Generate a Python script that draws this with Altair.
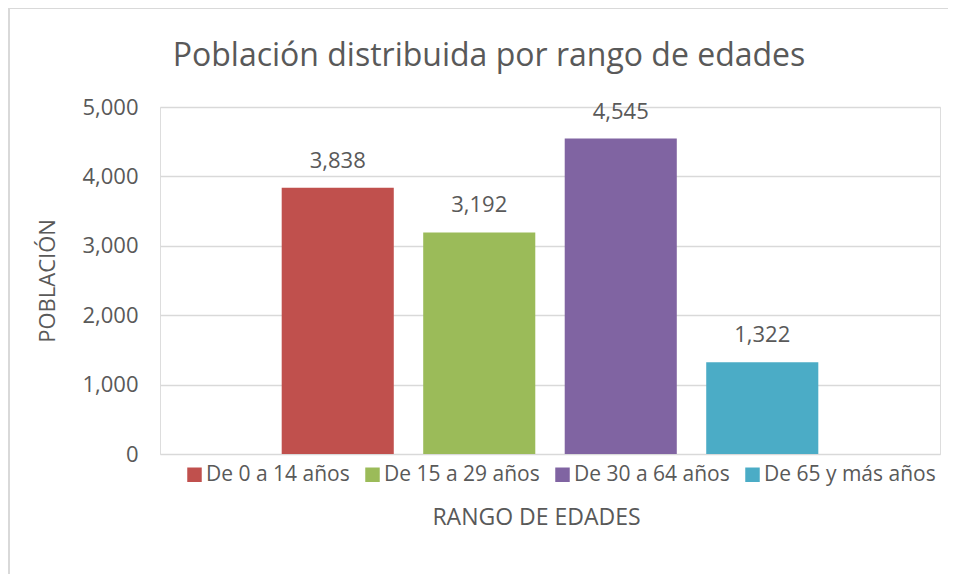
import altair as alt
import pandas as pd

categories = ["De 0 a 14 años", "De 15 a 29 años", "De 30 a 64 años", "De 65 y más años"]
values = [3838, 3192, 4545, 1322]
colors = ["#C0504D", "#9BBB59", "#8064A2", "#4BACC6"]
y_ticks = [0, 1000, 2000, 3000, 4000, 5000]

df = pd.DataFrame({"rango": categories, "poblacion": values})

FONT = "Open Sans"
TXT = "#595959"
W, H = 780, 347

x_enc = alt.X(
    "rango:N",
    sort=categories,
    scale=alt.Scale(paddingInner=0.208, paddingOuter=0.86),
    axis=alt.Axis(
        labels=False, ticks=False, domain=False, title="RANGO DE EDADES",
        titleFontSize=23, titleFontWeight="normal", titleColor=TXT, titleFont=FONT,
        titleX=376, titleY=63, titleBaseline="middle", titleAnchor="middle",
    ),
)
y_enc = alt.Y(
    "poblacion:Q",
    scale=alt.Scale(domain=[0, 5000]),
    axis=alt.Axis(
        values=y_ticks, format=",d", ticks=False, domain=False,
        grid=True, gridColor="#D9D9D9", gridWidth=1.5,
        labelFontSize=22, labelColor=TXT, labelFont=FONT, labelPadding=22,
        title="POBLACIÓN", titleFontSize=22, titleFontWeight="normal",
        titleColor=TXT, titleFont=FONT, titlePadding=22,
    ),
)

bars = alt.Chart(df).mark_bar().encode(
    x=x_enc,
    y=y_enc,
    color=alt.Color(
        "rango:N",
        sort=categories,
        scale=alt.Scale(domain=categories, range=colors),
        legend=alt.Legend(
            title=None, orient="none", direction="horizontal", columns=4,
            legendX=24, legendY=357,
            symbolType="square", symbolSize=210, symbolStrokeWidth=0,
            labelFontSize=21, labelColor=TXT, labelFont=FONT, labelLimit=400,
            columnPadding=12, labelOffset=1,
        ),
    ),
)

labels = alt.Chart(df).mark_text(
    baseline="alphabetic", dy=-20, fontSize=22, font=FONT, color=TXT
).encode(
    x=alt.X("rango:N", sort=categories),
    y="poblacion:Q",
    text=alt.Text("poblacion:Q", format=",d"),
)

border_left = alt.Chart(df).mark_rule(color="#D9D9D9", strokeWidth=1.5).encode(
    x=alt.value(-151), y=alt.value(-99), y2=alt.value(H + 140)
)
border_top = alt.Chart(df).mark_rule(color="#D9D9D9", strokeWidth=1.5).encode(
    x=alt.value(-151), x2=alt.value(W + 30), y=alt.value(-99)
)

chart = alt.layer(border_left, border_top, bars, labels).properties(
    width=W,
    height=H,
    padding={"left": 152, "top": 99, "right": 8, "bottom": 120},
    autosize=alt.AutoSizeParams(type="none"),
    title=alt.TitleParams(
        "Población distribuida por rango de edades",
        fontSize=32, font=FONT, color=TXT, fontWeight="normal",
        anchor="middle", dx=-61, offset=-91, baseline="alphabetic",
    ),
).configure_view(stroke=None).configure(background="white")

chart.save("out.html", embed_options={"renderer": "svg", "actions": False})
